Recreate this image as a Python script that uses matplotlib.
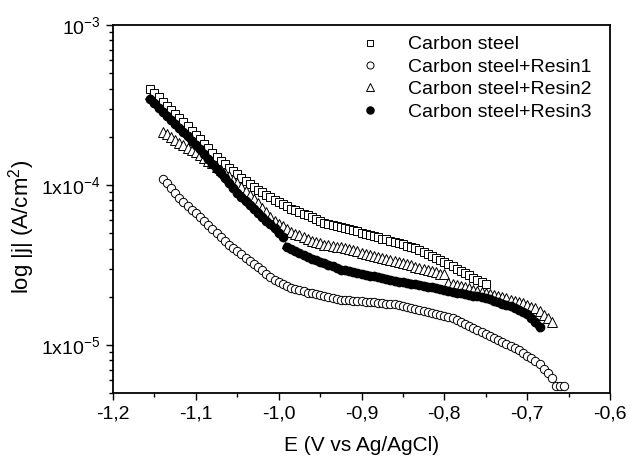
import numpy as np
import matplotlib
matplotlib.use("Agg")
from matplotlib import pyplot as plt
from matplotlib.ticker import FixedLocator, LogLocator, MultipleLocator, FuncFormatter, NullFormatter

# polarisation curves, E in V vs Ag/AgCl, log10 of |j| in A/cm2
e_steel = [-1.155, -1.150, -1.145, -1.140, -1.135, -1.130, -1.125, -1.120, -1.115, -1.110,
           -1.105, -1.100, -1.095, -1.090, -1.085, -1.080, -1.075, -1.070, -1.065, -1.060,
           -1.055, -1.050, -1.045, -1.040, -1.035, -1.030, -1.025, -1.020, -1.015, -1.010,
           -1.005, -1.000, -0.995, -0.990, -0.985, -0.980, -0.975, -0.970, -0.965, -0.960,
           -0.955, -0.950, -0.945, -0.940, -0.935, -0.930, -0.925, -0.920, -0.915, -0.910,
           -0.905, -0.900, -0.895, -0.890, -0.885, -0.880, -0.875, -0.870, -0.865, -0.860,
           -0.855, -0.850, -0.845, -0.840, -0.835, -0.830, -0.825, -0.820, -0.815, -0.810,
           -0.805, -0.800, -0.795, -0.790, -0.785, -0.780, -0.775, -0.770, -0.765, -0.760,
           -0.755, -0.750]
logj_steel = [-3.401, -3.427, -3.453, -3.479, -3.505, -3.531, -3.557, -3.582, -3.608, -3.634,
              -3.660, -3.686, -3.714, -3.743, -3.772, -3.801, -3.825, -3.848, -3.870, -3.893,
              -3.914, -3.934, -3.954, -3.974, -3.993, -4.011, -4.029, -4.046, -4.062, -4.078,
              -4.093, -4.107, -4.121, -4.134, -4.148, -4.159, -4.169, -4.180, -4.190, -4.201,
              -4.212, -4.224, -4.235, -4.243, -4.250, -4.258, -4.265, -4.271, -4.277, -4.283,
              -4.290, -4.298, -4.306, -4.314, -4.322, -4.328, -4.335, -4.341, -4.348, -4.354,
              -4.361, -4.370, -4.379, -4.388, -4.397, -4.408, -4.421, -4.433, -4.446, -4.458,
              -4.471, -4.483, -4.496, -4.509, -4.523, -4.537, -4.551, -4.565, -4.579, -4.594,
              -4.608, -4.620]

e_resin1 = [-1.140, -1.135, -1.130, -1.125, -1.120, -1.115, -1.110, -1.105, -1.100, -1.095,
            -1.090, -1.085, -1.080, -1.075, -1.070, -1.065, -1.060, -1.055, -1.050, -1.045,
            -1.040, -1.035, -1.030, -1.025, -1.020, -1.015, -1.010, -1.005, -1.000, -0.995,
            -0.990, -0.985, -0.980, -0.975, -0.970, -0.965, -0.960, -0.955, -0.950, -0.945,
            -0.940, -0.935, -0.930, -0.925, -0.920, -0.915, -0.910, -0.905, -0.900, -0.895,
            -0.890, -0.885, -0.880, -0.875, -0.870, -0.865, -0.860, -0.855, -0.850, -0.845,
            -0.840, -0.835, -0.830, -0.825, -0.820, -0.815, -0.810, -0.805, -0.800, -0.795,
            -0.790, -0.785, -0.780, -0.775, -0.770, -0.765, -0.760, -0.755, -0.750, -0.745,
            -0.740, -0.735, -0.730, -0.725, -0.720, -0.715, -0.710, -0.705, -0.700, -0.695,
            -0.690, -0.685, -0.680, -0.675, -0.670, -0.665, -0.660, -0.655]
logj_resin1 = [-3.961, -3.991, -4.022, -4.052, -4.083, -4.108, -4.131, -4.154, -4.176, -4.201,
               -4.227, -4.253, -4.278, -4.303, -4.327, -4.352, -4.376, -4.397, -4.416, -4.435,
               -4.455, -4.474, -4.493, -4.513, -4.534, -4.555, -4.576, -4.594, -4.607, -4.619,
               -4.631, -4.642, -4.650, -4.657, -4.665, -4.673, -4.678, -4.684, -4.689, -4.695,
               -4.700, -4.706, -4.711, -4.717, -4.719, -4.721, -4.724, -4.726, -4.728, -4.731,
               -4.733, -4.735, -4.737, -4.739, -4.742, -4.744, -4.746, -4.750, -4.756, -4.763,
               -4.769, -4.776, -4.782, -4.788, -4.794, -4.801, -4.807, -4.813, -4.820, -4.826,
               -4.835, -4.846, -4.858, -4.870, -4.882, -4.894, -4.905, -4.917, -4.929, -4.942,
               -4.955, -4.968, -4.981, -4.994, -5.007, -5.020, -5.033, -5.050, -5.067, -5.084,
               -5.101, -5.122, -5.150, -5.178, -5.210, -5.260, -5.260, -5.260]

e_resin2 = [-1.140, -1.135, -1.130, -1.125, -1.120, -1.115, -1.110, -1.105, -1.100, -1.095,
            -1.090, -1.085, -1.080, -1.075, -1.070, -1.065, -1.060, -1.055, -1.050, -1.045,
            -1.040, -1.035, -1.030, -1.025, -1.020, -1.015, -1.010, -1.005, -1.000, -0.995,
            -0.990, -0.985, -0.980, -0.975, -0.970, -0.965, -0.960, -0.955, -0.950, -0.945,
            -0.940, -0.935, -0.930, -0.925, -0.920, -0.915, -0.910, -0.905, -0.900, -0.895,
            -0.890, -0.885, -0.880, -0.875, -0.870, -0.865, -0.860, -0.855, -0.850, -0.845,
            -0.840, -0.835, -0.830, -0.825, -0.820, -0.815, -0.810, -0.805, -0.800, -0.795,
            -0.790, -0.785, -0.780, -0.775, -0.770, -0.765, -0.760, -0.755, -0.750, -0.745,
            -0.740, -0.735, -0.730, -0.725, -0.720, -0.715, -0.710, -0.705, -0.700, -0.695,
            -0.690, -0.685, -0.680, -0.675, -0.670]
logj_resin2 = [-3.666, -3.683, -3.700, -3.717, -3.735, -3.751, -3.766, -3.781, -3.796, -3.813,
               -3.830, -3.848, -3.866, -3.886, -3.906, -3.926, -3.946, -3.968, -3.990, -4.013,
               -4.036, -4.061, -4.089, -4.116, -4.144, -4.171, -4.200, -4.225, -4.242, -4.259,
               -4.276, -4.292, -4.304, -4.316, -4.328, -4.340, -4.348, -4.356, -4.365, -4.373,
               -4.377, -4.382, -4.386, -4.391, -4.397, -4.403, -4.409, -4.415, -4.423, -4.431,
               -4.439, -4.447, -4.452, -4.458, -4.463, -4.468, -4.474, -4.480, -4.488, -4.496,
               -4.503, -4.511, -4.519, -4.526, -4.533, -4.540, -4.547, -4.554, -4.560, -4.611,
               -4.618, -4.626, -4.633, -4.640, -4.647, -4.654, -4.661, -4.668, -4.676, -4.683,
               -4.690, -4.697, -4.703, -4.710, -4.717, -4.724, -4.731, -4.741, -4.752, -4.762,
               -4.772, -4.787, -4.811, -4.835, -4.857]

# resin3 curve has a break near -0.99 V, kept as two pieces
e_resin3_a = [-1.155, -1.150, -1.145, -1.140, -1.135, -1.130, -1.125, -1.120, -1.115, -1.110,
              -1.105, -1.100, -1.095, -1.090, -1.085, -1.080, -1.075, -1.070, -1.065, -1.060,
              -1.055, -1.050, -1.045, -1.040, -1.035, -1.030, -1.025, -1.020, -1.015, -1.010,
              -1.005, -1.000, -0.995]
logj_resin3_a = [-3.464, -3.490, -3.516, -3.541, -3.567, -3.593, -3.619, -3.645, -3.671, -3.697,
                 -3.723, -3.749, -3.777, -3.808, -3.839, -3.869, -3.899, -3.928, -3.957, -3.987,
                 -4.017, -4.048, -4.077, -4.101, -4.126, -4.150, -4.174, -4.199, -4.223, -4.247,
                 -4.272, -4.298, -4.324]
e_resin3_b = [-0.990, -0.985, -0.980, -0.975, -0.970, -0.965, -0.960, -0.955, -0.950, -0.945,
              -0.940, -0.935, -0.930, -0.925, -0.920, -0.915, -0.910, -0.905, -0.900, -0.895,
              -0.890, -0.885, -0.880, -0.875, -0.870, -0.865, -0.860, -0.855, -0.850, -0.845,
              -0.840, -0.835, -0.830, -0.825, -0.820, -0.815, -0.810, -0.805, -0.800, -0.795,
              -0.790, -0.785, -0.780, -0.775, -0.770, -0.765, -0.760, -0.755, -0.750, -0.745,
              -0.740, -0.735, -0.730, -0.725, -0.720, -0.715, -0.710, -0.705, -0.700, -0.695,
              -0.690, -0.685]
logj_resin3_b = [-4.389, -4.402, -4.415, -4.428, -4.440, -4.453, -4.462, -4.472, -4.481, -4.491,
                 -4.500, -4.510, -4.519, -4.529, -4.534, -4.540, -4.545, -4.551, -4.556, -4.562,
                 -4.567, -4.572, -4.577, -4.583, -4.588, -4.594, -4.599, -4.605, -4.609, -4.613,
                 -4.617, -4.621, -4.625, -4.630, -4.636, -4.641, -4.647, -4.652, -4.658, -4.663,
                 -4.669, -4.673, -4.678, -4.683, -4.687, -4.692, -4.697, -4.701, -4.708, -4.716,
                 -4.725, -4.734, -4.742, -4.751, -4.760, -4.771, -4.783, -4.795, -4.807, -4.830,
                 -4.856, -4.890]

labels = ['Carbon steel', 'Carbon steel+Resin1', 'Carbon steel+Resin2', 'Carbon steel+Resin3']
x_ticks = [-1.2, -1.1, -1.0, -0.9, -0.8, -0.7, -0.6]
y_ticks = [1e-5, 1e-4, 1e-3]
y_ticklabels = [r'$1\mathrm{x}10^{-5}$', r'$1\mathrm{x}10^{-4}$', r'$10^{-3}$']

plt.rcParams['font.family'] = ['Liberation Sans', 'DejaVu Sans']
plt.rcParams['mathtext.fontset'] = 'custom'
plt.rcParams['mathtext.rm'] = 'Liberation Sans'
plt.rcParams['mathtext.it'] = 'Liberation Sans:italic'
plt.rcParams['font.size'] = 14

fig = plt.figure(figsize=(6.3, 4.61), dpi=100)
ax = fig.add_axes([113 / 630, 1 - 393 / 461, 497 / 630, 368 / 461])

ms = 6.0
mew = 0.7
ax.plot(e_steel, 10 ** np.array(logj_steel), ls='none', marker='s', ms=ms - 0.6,
        mfc='white', mec='black', mew=mew, label=labels[0])
ax.plot(e_resin1, 10 ** np.array(logj_resin1), ls='none', marker='o', ms=ms,
        mfc='white', mec='black', mew=mew, label=labels[1])
ax.plot(e_resin2, 10 ** np.array(logj_resin2), ls='none', marker='^', ms=ms + 1.0,
        mfc='white', mec='black', mew=mew, label=labels[2])
ax.plot(e_resin3_a, 10 ** np.array(logj_resin3_a), color='black', lw=5.5,
        marker='o', ms=ms, mfc='black', mec='black', label=labels[3])
ax.plot(e_resin3_b, 10 ** np.array(logj_resin3_b), color='black', lw=5.5,
        marker='o', ms=ms, mfc='black', mec='black')

ax.set_yscale('log')
ax.set_xlim(-1.2, -0.6)
ax.set_ylim(5e-6, 1e-3)

ax.xaxis.set_major_locator(FixedLocator(x_ticks))
ax.xaxis.set_minor_locator(MultipleLocator(0.05))
ax.xaxis.set_major_formatter(FuncFormatter(lambda v, p: ('%.1f' % v).replace('.', ',')))
ax.set_yticks(y_ticks)
ax.set_yticklabels(y_ticklabels)
ax.yaxis.set_minor_locator(LogLocator(base=10, subs=np.arange(2, 10)))
ax.yaxis.set_minor_formatter(NullFormatter())

ax.tick_params(which='both', direction='out', top=False, right=False, width=1.0, labelsize=14)
ax.tick_params(which='major', length=5, pad=4)
ax.tick_params(which='minor', length=3)
for s in ax.spines.values():
    s.set_linewidth(1.3)

ax.set_xlabel('E (V vs Ag/AgCl)', fontsize=15, labelpad=10)
ax.set_ylabel(r'log |j| (A/cm$^{2}$)', fontsize=16)
ax.yaxis.set_label_coords(-0.152, 0.452)

leg = ax.legend(loc='upper left', bbox_to_anchor=(0.478, 0.992), frameon=False,
                handlelength=1.2, handletextpad=1.37, labelspacing=0.25,
                borderaxespad=0, fontsize=14, markerscale=0.85)
for h in leg.legend_handles:
    h.set_linewidth(0)

fig.savefig('out.png', dpi=100)
